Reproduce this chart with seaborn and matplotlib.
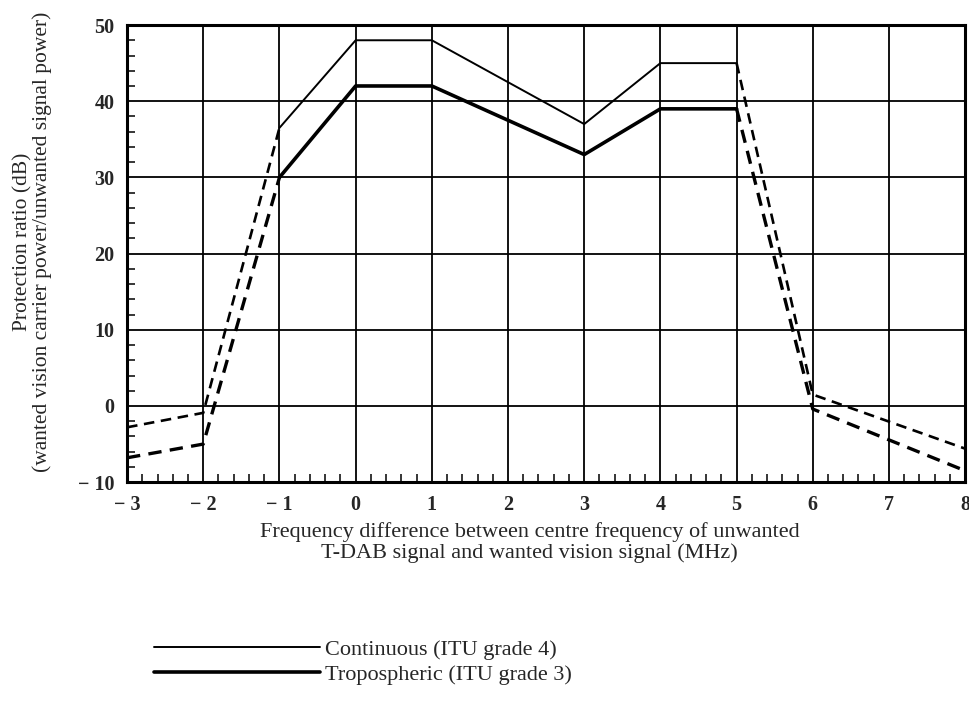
import numpy as np
import pandas as pd
import seaborn as sns
import matplotlib.pyplot as plt
from matplotlib.ticker import MultipleLocator, FixedLocator

# solid parts (measured in-band)
freq_solid = [-1, 0, 1, 2, 3, 4, 5]
cont_solid = [36.5, 48, 48, 42.5, 37, 45, 45]
trop_solid = [30, 42, 42, 37.5, 33, 39, 39]

# dashed parts (extrapolated)
freq_left = [-3, -2, -1]
cont_left = [-2.8, -0.9, 36.5]
trop_left = [-6.8, -5, 30]
freq_right = [5, 6, 8]
cont_right = [45, 1.5, -5.6]
trop_right = [39, -0.4, -8.5]

x_ticks = [-3, -2, -1, 0, 1, 2, 3, 4, 5, 6, 7, 8]
x_tick_labels = ['\u2212 3', '\u2212 2', '\u2212 1', '0', '1', '2', '3', '4', '5', '6', '7', '8']
y_ticks = [-10, 0, 10, 20, 30, 40, 50]
y_tick_labels = ['\u2212 10', '0', '10', '20', '30', '40', '50']

sns.set_style('white')
plt.rcParams['font.family'] = ['Liberation Serif', 'DejaVu Serif']

fig = plt.figure(figsize=[9.7, 7.07], dpi=100)
ax = fig.add_axes([0.131, 0.318, 0.864, 0.6466])

thin, thick = 1.4, 2.6
sns.lineplot(x=freq_solid, y=cont_solid, color='black', lw=thin, ax=ax,
             label='Continuous (ITU grade 4)')
sns.lineplot(x=freq_solid, y=trop_solid, color='black', lw=thick, ax=ax,
             label='Tropospheric (ITU grade 3)')
for xs, ys, w in [(freq_left, cont_left, 1.9), (freq_left, trop_left, 2.4),
                  (freq_right, cont_right, 1.9), (freq_right, trop_right, 2.4)]:
    sns.lineplot(x=xs, y=ys, color='black', lw=w, ax=ax, dashes=False)
    ax.lines[-1].set_linestyle((0, (4, 2.5)))

ax.set_xlim(-3, 8)
ax.set_ylim(-10, 50)
ax.xaxis.set_major_locator(FixedLocator(x_ticks))
ax.set_xticklabels(x_tick_labels)
ax.yaxis.set_major_locator(FixedLocator(y_ticks))
ax.set_yticklabels(y_tick_labels)
ax.xaxis.set_minor_locator(MultipleLocator(0.2))
ax.yaxis.set_minor_locator(MultipleLocator(2))
ax.tick_params(which='major', length=0, pad=9, labelsize=14.5)
ax.tick_params(which='minor', direction='in', length=6, width=1.3,
               bottom=True, left=True, top=False, right=False)
for lab in ax.get_xticklabels() + ax.get_yticklabels():
    lab.set_fontweight('bold')

ax.grid(which='major', color='black', lw=1.3)
for s in ax.spines.values():
    s.set_color('black')
    s.set_linewidth(2.2)

ax.set_xlabel('Frequency difference between centre frequency of unwanted\n'
              'T-DAB signal and wanted vision signal (MHz)',
              size=16, linespacing=1.05)
ax.xaxis.set_label_coords(0.48, -0.088)
ax.xaxis.label.set_va('top')
ax.set_ylabel('Protection ratio (dB)\n'
              '(wanted vision carrier power/unwanted signal power)',
              size=15.5, linespacing=0.95)
ax.yaxis.set_label_coords(-0.09, 0.525)

handles, labels = ax.get_legend_handles_labels()
ax.get_legend().remove()
fig.legend(handles, labels, loc='upper left', bbox_to_anchor=(0.147, 0.111),
           frameon=False, fontsize=16, handlelength=7.5, handletextpad=0.22,
           labelspacing=0.2, borderpad=0)

fig.savefig('out.png', dpi=100)
